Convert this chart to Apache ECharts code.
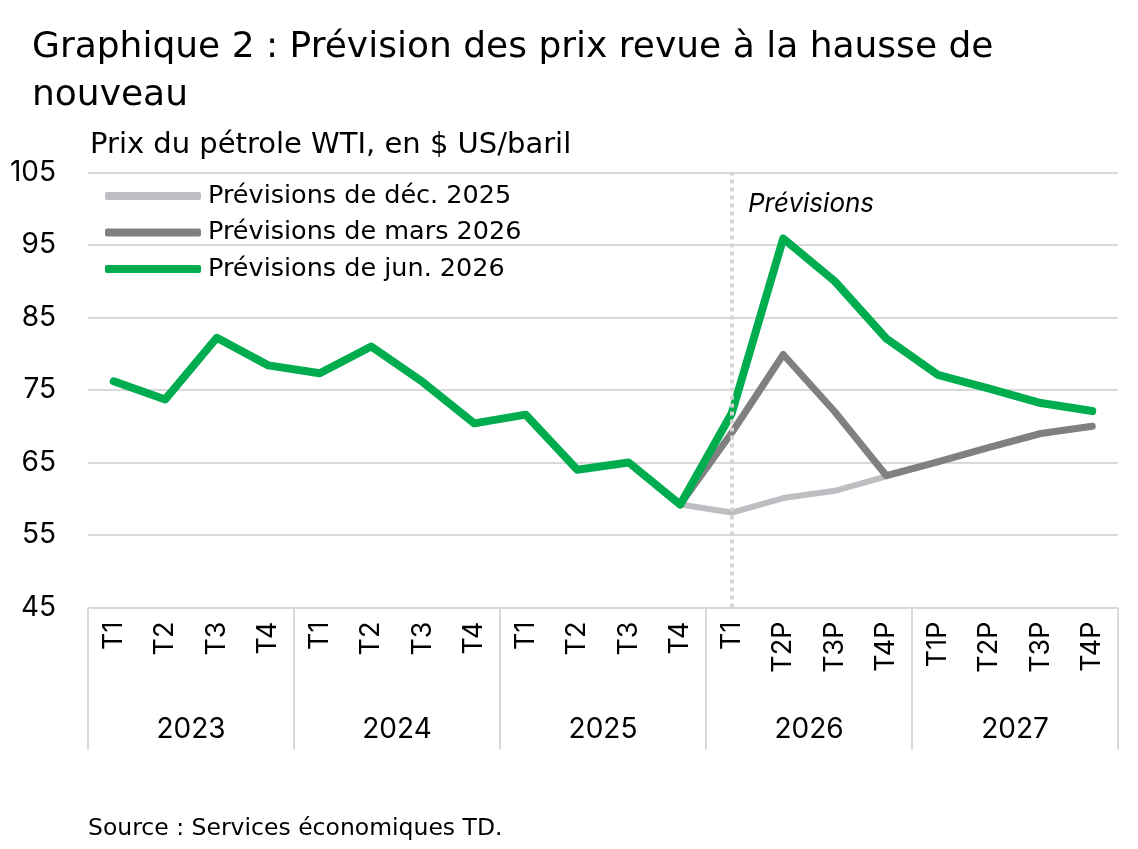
<!DOCTYPE html>
<html>
<head>
<meta charset="utf-8">
<script src="https://cdn.jsdelivr.net/npm/echarts@6/dist/echarts.min.js"></script>
<style>
  html, body { margin: 0; padding: 0; background: #fff; }
  #chart { width: 1138px; height: 849px; }
</style>
</head>
<body>
<div id="chart"></div>
<script>
// trimestres et années
const quarters = ['T1', 'T2', 'T3', 'T4', 'T1', 'T2', 'T3', 'T4', 'T1', 'T2', 'T3', 'T4',
  'T1', 'T2P', 'T3P', 'T4P', 'T1P', 'T2P', 'T3P', 'T4P'];
const years = ['2023', '2024', '2025', '2026', '2027'];

// Prix du pétrole WTI ($ US/baril)
const decForecast = [null, null, null, null, null, null, null, null, null, null, null,
  59.2, 58.1, 60.1, 61.1, 63.1, 65.1, 67.1, 69.0, 70.0];
const marForecast = [null, null, null, null, null, null, null, null, null, null, null,
  59.2, 69.1, 79.9, 72.0, 63.2, 65.1, 67.1, 69.0, 70.0];
const junForecast = [76.2, 73.7, 82.2, 78.4, 77.3, 81.0, 76.1, 70.4, 71.6, 64.0, 65.0,
  59.2, 71.8, 95.9, 90.0, 82.1, 77.1, 75.2, 73.2, 72.1];

const forecastStart = 12; // T1 2026

const FONT = 'Inter';
const TEXT_FONT = 'DejaVu Sans';
const chart = echarts.init(document.getElementById('chart'));

const lineSeries = (name, data, color, width) => ({
  name: name,
  type: 'line',
  data: data,
  symbol: 'none',
  xAxisIndex: 0,
  lineStyle: { color: color, width: width, cap: 'round', join: 'round' },
  itemStyle: { color: color },
  emphasis: { disabled: true }
});

const option = {
  animation: false,
  textStyle: { fontFamily: FONT, color: '#000' },
  title: [
    {
      text: 'Graphique 2 : Prévision des prix revue à la hausse de\nnouveau',
      left: 27, top: 19,
      textStyle: { fontFamily: TEXT_FONT, fontSize: 36, fontWeight: 'normal', color: '#000', lineHeight: 48 }
    },
    {
      text: 'Prix du pétrole WTI, en $ US/baril',
      left: 85, top: 126,
      textStyle: { fontFamily: TEXT_FONT, fontSize: 29, fontWeight: 'normal', color: '#000' }
    },
    {
      text: 'Source : Services économiques TD.',
      left: 83, top: 812,
      textStyle: { fontFamily: TEXT_FONT, fontSize: 23.5, fontWeight: 'normal', color: '#000' }
    }
  ],
  legend: {
    orient: 'vertical',
    left: 100, top: 178,
    icon: 'roundRect',
    itemWidth: 96, itemHeight: 8,
    itemGap: 10.5,
    selectedMode: false,
    textStyle: { fontFamily: TEXT_FONT, fontSize: 25.5, color: '#000', padding: [0, 0, 0, 2] },
    data: ['Prévisions de déc. 2025', 'Prévisions de mars 2026', 'Prévisions de jun. 2026']
  },
  grid: { left: 88, right: 20, top: 172.5, bottom: 241.5, containLabel: false },
  xAxis: [
    {
      type: 'category',
      data: quarters,
      boundaryGap: true,
      axisLine: { show: false },
      axisTick: { show: false },
      axisLabel: { rotate: 90, margin: 14, fontFamily: FONT, fontSize: 27, color: '#000', interval: 0 }
    },
    {
      type: 'category',
      data: years,
      position: 'bottom',
      boundaryGap: true,
      axisLine: { show: false },
      axisTick: { show: true, length: 142, lineStyle: { color: '#d9d9d9', width: 2 } },
      axisLabel: { margin: 108, fontFamily: FONT, fontSize: 28, color: '#000' }
    }
  ],
  yAxis: {
    type: 'value',
    min: 45, max: 105, interval: 10,
    axisLine: { show: false },
    axisTick: { show: false },
    axisLabel: { margin: 32, fontFamily: FONT, fontSize: 28, color: '#000' },
    splitLine: { lineStyle: { color: '#d9d9d9', width: 2 } }
  },
  graphic: [
    {
      type: 'text',
      left: 748, top: 191,
      style: { text: 'Prévisions', font: 'italic 26px ' + FONT, fill: '#000' }
    }
  ],
  series: [
    Object.assign(lineSeries('Prévisions de déc. 2025', decForecast, '#bdbdc2', 6), {
      markLine: {
        silent: true,
        symbol: ['none', 'none'],
        label: { show: false },
        lineStyle: { color: '#d4d4d4', type: [4, 4], width: 4 },
        data: [{ xAxis: forecastStart }]
      }
    }),
    lineSeries('Prévisions de mars 2026', marForecast, '#808080', 7),
    lineSeries('Prévisions de jun. 2026', junForecast, '#00ad4e', 8)
  ]
};

chart.setOption(option);
</script>
</body>
</html>
